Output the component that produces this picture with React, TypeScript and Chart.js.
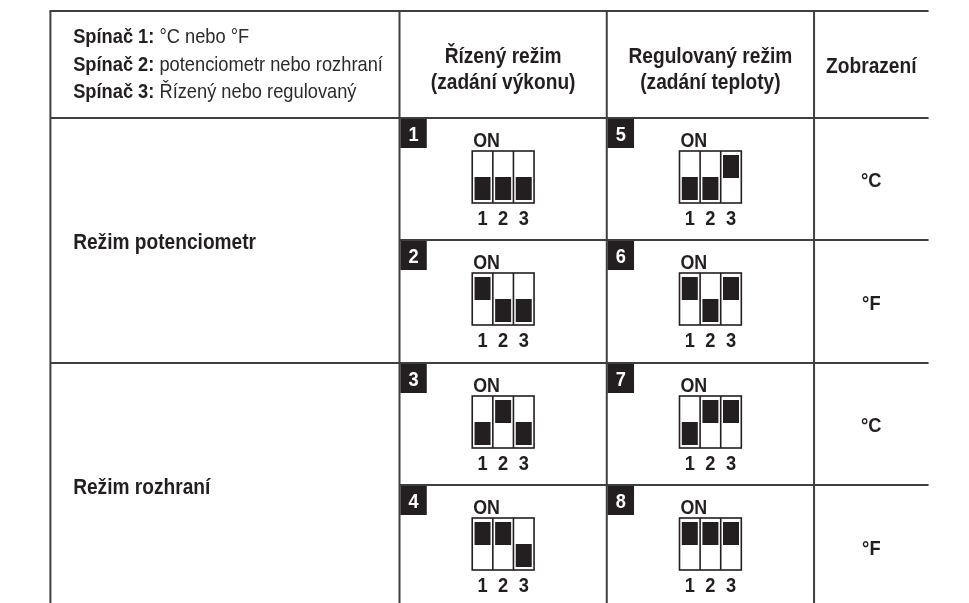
import React, { useEffect, useRef } from "react";
import { Chart, registerables } from "chart.js";

Chart.register(...registerables);

// ---------- data ----------
const switchNames = ["Spínač 1:", "Spínač 2:", "Spínač 3:"];
const switchMeanings = ["°C nebo °F", "potenciometr nebo rozhraní", "Řízený nebo regulovaný"];
const controlledHeader = ["Řízený režim", "(zadání výkonu)"];
const regulatedHeader = ["Regulovaný režim", "(zadání teploty)"];
const displayHeader = "Zobrazení";
const modeLabels = ["Režim potenciometr", "Režim rozhraní"];
const displayUnits = ["°C", "°F", "°C", "°F"];
const settingNumbers = ["1", "2", "3", "4", "5", "6", "7", "8"];
// 1 = switch up (ON), 0 = switch down
const switchStates = [
  [0, 0, 0],
  [1, 0, 0],
  [0, 1, 0],
  [1, 1, 0],
  [0, 0, 1],
  [1, 0, 1],
  [0, 1, 1],
  [1, 1, 1],
];
const switchPositionLabels = ["1", "2", "3"];
const onLabel = "ON";

// ---------- layout (table units = px) ----------
const W = 969;
const H = 603;
const colEdges = [7, 391, 619, 847, 973];
const rowEdges = [11, 118, 240, 363, 485, 608];
const BOX_W = 68;
const BOX_H = 52;
const BOX_TOP = 33;
const BLOCK_H = 23;
const INK = "#231f20";
const LINE = "#3f3f3f";
const FONT = "'Liberation Sans', Arial, Helvetica, sans-serif";

function settingCell(i: number) {
  const col = i < 4 ? 1 : 2;
  const sub = i % 4;
  return { left: colEdges[col], right: colEdges[col + 1], top: rowEdges[sub + 1], bottom: rowEdges[sub + 2] };
}

function boxLeft(cell: { left: number; right: number }) {
  return (cell.left + cell.right) / 2 - BOX_W / 2;
}

const blocks: { x: number; y: [number, number] }[] = [];
switchStates.forEach((st, i) => {
  const c = settingCell(i);
  const bl = boxLeft(c);
  const bt = c.top + BOX_TOP;
  st.forEach((on, k) => {
    const x = bl + (BOX_W / 6) * (2 * k + 1);
    const y0 = on ? bt + 4 : bt + 26;
    blocks.push({ x, y: [y0, y0 + BLOCK_H] });
  });
});

function txt(ctx: CanvasRenderingContext2D, s: string, x: number, y: number, font: string, align: CanvasTextAlign, hs: number, color = INK) {
  ctx.save();
  ctx.font = font;
  ctx.fillStyle = color;
  ctx.textAlign = align;
  ctx.textBaseline = "alphabetic";
  ctx.translate(x, y);
  ctx.scale(hs, 1);
  ctx.fillText(s, 0, 0);
  ctx.restore();
}

function measure(ctx: CanvasRenderingContext2D, s: string, font: string, hs: number) {
  ctx.save();
  ctx.font = font;
  const w = ctx.measureText(s).width * hs;
  ctx.restore();
  return w;
}

const tablePlugin = {
  id: "dipTable",
  beforeDatasetsDraw(chart: any) {
    const ctx: CanvasRenderingContext2D = chart.ctx;
    const X = (v: number) => chart.scales.x.getPixelForValue(v);
    const Y = (v: number) => chart.scales.y.getPixelForValue(v);
    const HS = 0.87;
    const bold22 = `bold 22px ${FONT}`;
    const bold21 = `bold 21px ${FONT}`;
    const reg21 = `21px ${FONT}`;

    ctx.save();
    // grid lines
    ctx.strokeStyle = LINE;
    ctx.lineWidth = 2;
    const hline = (y: number, x0: number, x1: number) => {
      ctx.beginPath();
      ctx.moveTo(X(x0), Y(y));
      ctx.lineTo(X(x1), Y(y));
      ctx.stroke();
    };
    const vline = (x: number, y0: number, y1: number) => {
      ctx.beginPath();
      ctx.moveTo(X(x), Y(y0));
      ctx.lineTo(X(x), Y(y1));
      ctx.stroke();
    };
    hline(rowEdges[0], colEdges[0] - 1, colEdges[4]);
    hline(rowEdges[1], colEdges[0], colEdges[4]);
    hline(rowEdges[2], colEdges[1], colEdges[4]);
    hline(rowEdges[3], colEdges[0], colEdges[4]);
    hline(rowEdges[4], colEdges[1], colEdges[4]);
    for (let c = 0; c < 4; c++) vline(colEdges[c], rowEdges[0], rowEdges[5]);

    // header column 1
    switchNames.forEach((n, i) => {
      const by = 43 + i * 27.5;
      txt(ctx, n, X(32), Y(by), bold21, "left", HS);
      const w = measure(ctx, n + " ", bold21, HS);
      txt(ctx, switchMeanings[i], X(32) + w, Y(by), reg21, "left", HS, "#2b2b2b");
    });
    // header columns 2,3
    [controlledHeader, regulatedHeader].forEach((lines, j) => {
      const cx = (colEdges[j + 1] + colEdges[j + 2]) / 2;
      lines.forEach((l, k) => txt(ctx, l, X(cx), Y(63 + k * 25.5), bold22, "center", HS));
    });
    txt(ctx, displayHeader, X((colEdges[3] + colEdges[4]) / 2), Y(73), bold22, "center", HS);

    // mode labels
    modeLabels.forEach((m, i) => {
      const cy = (rowEdges[1 + i * 2] + rowEdges[3 + i * 2]) / 2;
      txt(ctx, m, X(32), Y(cy + 8), bold22, "left", HS);
    });
    // display units
    displayUnits.forEach((u, i) => {
      const cy = (rowEdges[i + 1] + rowEdges[i + 2]) / 2;
      txt(ctx, u, X((colEdges[3] + colEdges[4]) / 2), Y(cy + 8), bold21, "center", HS);
    });

    // setting cells
    settingNumbers.forEach((num, i) => {
      const c = settingCell(i);
      // badge
      ctx.fillStyle = INK;
      ctx.fillRect(X(c.left + 1), Y(c.top + 1), X(c.left + 30) - X(c.left + 1), Y(c.top + 30) - Y(c.top + 1));
      txt(ctx, num, X(c.left + 15.5), Y(c.top + 23), bold21, "center", HS, "#ffffff");
      // DIP box
      const bl = boxLeft(c);
      const bt = c.top + BOX_TOP;
      ctx.fillStyle = "#ffffff";
      ctx.fillRect(X(bl), Y(bt), X(bl + BOX_W) - X(bl), Y(bt + BOX_H) - Y(bt));
      ctx.strokeStyle = INK;
      ctx.lineWidth = 1.6;
      ctx.strokeRect(X(bl), Y(bt), X(bl + BOX_W) - X(bl), Y(bt + BOX_H) - Y(bt));
      for (let k = 1; k < 3; k++) {
        ctx.beginPath();
        ctx.moveTo(X(bl + (BOX_W / 3) * k), Y(bt));
        ctx.lineTo(X(bl + (BOX_W / 3) * k), Y(bt + BOX_H));
        ctx.stroke();
      }
      txt(ctx, onLabel, X(bl + 1), Y(c.top + 28.5), bold21, "left", 0.85);
      switchPositionLabels.forEach((s, k) => {
        txt(ctx, s, X(bl + (BOX_W / 6) * (2 * k + 1)), Y(c.top + 106.5), bold21, "center", HS);
      });
    });
    ctx.restore();
  },
};

export default function App() {
  const ref = useRef<HTMLCanvasElement | null>(null);
  useEffect(() => {
    if (!ref.current) return;
    const chart = new Chart(ref.current, {
      type: "bar",
      data: {
        datasets: [
          {
            data: blocks as any,
            backgroundColor: INK,
            borderWidth: 0,
            barThickness: 16,
            inflateAmount: 0,
          } as any,
        ],
      },
      options: {
        animation: false,
        responsive: false,
        maintainAspectRatio: false,
        devicePixelRatio: 1,
        layout: { padding: 0 },
        plugins: { legend: { display: false }, tooltip: { enabled: false } },
        scales: {
          x: { type: "linear", min: 0, max: W, display: false },
          y: { type: "linear", min: 0, max: H, reverse: true, display: false },
        },
      },
      plugins: [tablePlugin],
    });
    return () => chart.destroy();
  }, []);
  return (
    <div style={{ position: "fixed", left: 0, top: 0, width: W, height: H, background: "#ffffff" }}>
      <canvas ref={ref} width={W} height={H} style={{ display: "block", width: W, height: H }} />
    </div>
  );
}
